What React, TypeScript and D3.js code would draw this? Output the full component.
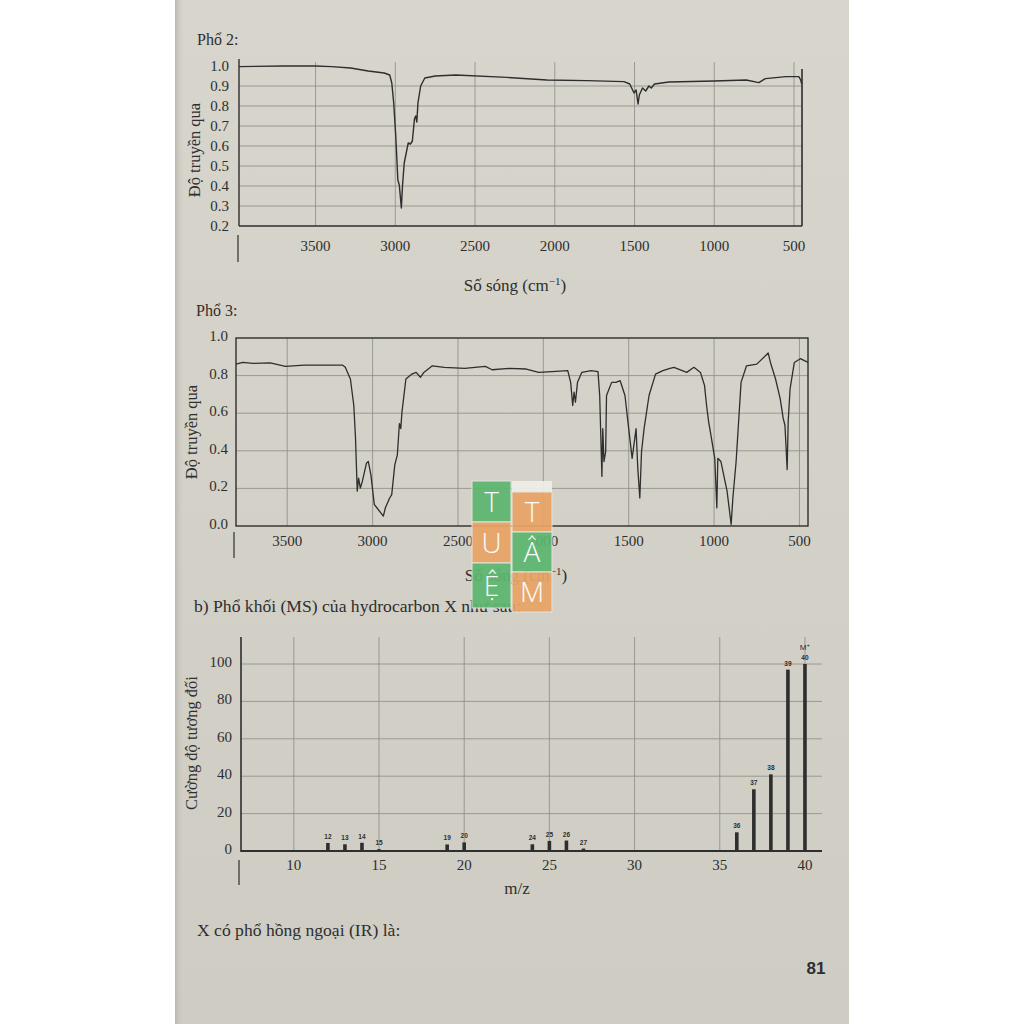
import React from 'react';
import * as d3 from 'd3';

// ---------- DATA ----------
const irTicks = [3500, 3000, 2500, 2000, 1500, 1000, 500];
const ir2YTicks = [0.2, 0.3, 0.4, 0.5, 0.6, 0.7, 0.8, 0.9, 1.0];
const ir3YTicks = [0.0, 0.2, 0.4, 0.6, 0.8, 1.0];

// Phổ 2: [wavenumber, transmittance]
const ir2Points: [number, number][] = [
  [3980, 0.997], [3700, 1.0], [3500, 1.0], [3400, 0.997], [3280, 0.99], [3170, 0.975],
  [3070, 0.965], [3035, 0.955], [3022, 0.915], [3010, 0.815], [2997, 0.65], [2984, 0.43],
  [2975, 0.405], [2962, 0.29], [2955, 0.4], [2944, 0.515], [2919, 0.615], [2905, 0.61],
  [2893, 0.625], [2880, 0.735], [2872, 0.75], [2865, 0.72], [2858, 0.815], [2841, 0.9],
  [2815, 0.94], [2750, 0.95], [2620, 0.955], [2300, 0.943], [2050, 0.93], [1800, 0.927],
  [1566, 0.922], [1530, 0.91], [1503, 0.865], [1490, 0.88], [1478, 0.81], [1470, 0.855],
  [1450, 0.89], [1430, 0.875], [1410, 0.9], [1395, 0.89], [1375, 0.91], [1285, 0.92],
  [1000, 0.925], [800, 0.93], [720, 0.917], [680, 0.937], [550, 0.947], [470, 0.947],
  [458, 0.93], [452, 0.91],
];

// Phổ 3: [wavenumber, transmittance]
const ir3Points: [number, number][] = [
  [3800, 0.861], [3760, 0.87], [3700, 0.865], [3600, 0.868], [3510, 0.849], [3400, 0.856],
  [3177, 0.856], [3160, 0.844], [3130, 0.782], [3110, 0.641], [3100, 0.466], [3090, 0.185],
  [3082, 0.255], [3072, 0.202], [3060, 0.237], [3036, 0.334], [3025, 0.343], [3010, 0.272],
  [2990, 0.114], [2975, 0.097], [2937, 0.053], [2925, 0.097], [2900, 0.149], [2888, 0.167],
  [2870, 0.325], [2855, 0.378], [2843, 0.545], [2835, 0.518], [2828, 0.606], [2805, 0.782],
  [2770, 0.808], [2745, 0.817], [2720, 0.791], [2700, 0.817], [2650, 0.852], [2580, 0.844],
  [2460, 0.838], [2340, 0.849], [2300, 0.831], [2200, 0.838], [2100, 0.835], [2027, 0.817],
  [1950, 0.821], [1857, 0.826], [1840, 0.764], [1828, 0.641], [1820, 0.712], [1812, 0.659],
  [1800, 0.764], [1775, 0.817], [1720, 0.826], [1680, 0.821], [1670, 0.694], [1657, 0.264],
  [1652, 0.518], [1645, 0.343], [1635, 0.395], [1630, 0.694], [1600, 0.764], [1575, 0.764],
  [1550, 0.773], [1522, 0.694], [1500, 0.518], [1480, 0.36], [1457, 0.518], [1447, 0.308],
  [1435, 0.149], [1425, 0.395], [1410, 0.518], [1381, 0.694], [1343, 0.808], [1300, 0.826],
  [1258, 0.838], [1235, 0.844], [1160, 0.817], [1118, 0.844], [1080, 0.817], [1056, 0.747],
  [1044, 0.641], [1032, 0.554], [1025, 0.518], [996, 0.36], [984, 0.097], [978, 0.36],
  [960, 0.343], [924, 0.185], [900, 0.009], [890, 0.149], [871, 0.343], [842, 0.764],
  [810, 0.852], [750, 0.861], [683, 0.92], [670, 0.87], [640, 0.782], [613, 0.677],
  [595, 0.571], [585, 0.536], [572, 0.3], [566, 0.554], [555, 0.729], [530, 0.87],
  [495, 0.89], [450, 0.87],
];

// MS
const msMz = [12, 13, 14, 15, 19, 20, 24, 25, 26, 27, 36, 37, 38, 39, 40];
const msIntensity = [4.3, 3.6, 4.4, 1, 3.5, 4.6, 3.6, 5.4, 5.6, 1.3, 10, 33, 41, 97, 100];
const msXTicks = [10, 15, 20, 25, 30, 35, 40];
const msYTicks = [0, 20, 40, 60, 80, 100];

const logoCol1 = ['T', 'U', 'Ệ'];
const logoCol2 = ['T', 'Â', 'M'];

// ---------- STYLE ----------
const SERIF = "'Liberation Serif', 'Times New Roman', serif";
const SANS = "'Liberation Sans', Arial, sans-serif";
const INK = '#2e2e2e';
const GRID = '#8c8a84';
const GREEN = '#5db670';
const ORANGE = '#e9a466';

export default function App() {
  // Chart 1 scales
  const x1 = d3.scaleLinear().domain([3980, 450]).range([239, 802]);
  const y1 = d3.scaleLinear().domain([0.2, 1.0]).range([226, 66]);
  const line1 = d3.line<[number, number]>().x(d => x1(d[0])).y(d => y1(d[1]));

  // Chart 2 scales
  const x2 = d3.scaleLinear().domain([3800, 450]).range([236, 808]);
  const y2 = d3.scaleLinear().domain([0, 1]).range([526, 338]);
  const line2 = d3.line<[number, number]>().x(d => x2(d[0])).y(d => y2(d[1]));

  // Chart 3 scales
  const x3 = d3.scaleLinear().domain([6.9, 41]).range([241, 822]);
  const y3 = d3.scaleLinear().domain([0, 100]).range([851, 664]);

  const fmt1 = d3.format('.1f');

  return (
    <div>
      <svg width={1024} height={1024} style={{ position: 'absolute', left: 0, top: 0 }}>
        <defs>
          <linearGradient id="paper" x1="0" y1="0" x2="0" y2="1">
            <stop offset="0" stopColor="#d7d5cc" />
            <stop offset="1" stopColor="#cfcdc3" />
          </linearGradient>
          <linearGradient id="shade" x1="0" y1="0" x2="1" y2="0">
            <stop offset="0" stopColor="#b9b7ad" stopOpacity={0.9} />
            <stop offset="1" stopColor="#d5d3ca" stopOpacity={0} />
          </linearGradient>
        </defs>
        <rect x={0} y={0} width={1024} height={1024} fill="#ffffff" />
        <rect x={175} y={0} width={674} height={1024} fill="url(#paper)" />
        <rect x={175} y={0} width={10} height={1024} fill="url(#shade)" />

        {/* ---------------- Phổ 2 ---------------- */}
        <text x={197} y={45} fontFamily={SERIF} fontSize={16} fill={INK}>Phổ 2:</text>
        {ir2YTicks.filter(t => t > 0.25 && t < 0.95).map(t => (
          <line key={'h1' + t} x1={239} x2={802} y1={y1(t)} y2={y1(t)} stroke={GRID} strokeWidth={0.8} />
        ))}
        {irTicks.map(t => (
          <line key={'v1' + t} x1={x1(t)} x2={x1(t)} y1={y1(1.02)} y2={y1(0.2)} stroke={GRID} strokeWidth={0.8} />
        ))}
        <line x1={239} x2={802} y1={y1(0.2)} y2={y1(0.2)} stroke={INK} strokeWidth={1.5} />
        <line x1={239} x2={239} y1={59} y2={y1(0.2)} stroke={INK} strokeWidth={1.4} />
        <line x1={238} x2={238} y1={235} y2={262} stroke={INK} strokeWidth={1.2} />
        <line x1={802} x2={802} y1={69} y2={y1(0.2)} stroke={INK} strokeWidth={1.6} />
        <path d={line1(ir2Points) || ''} fill="none" stroke={INK} strokeWidth={1.4} strokeLinejoin="round" />
        {ir2YTicks.map(t => (
          <text key={'yl1' + t} x={229} y={y1(t) + 5} textAnchor="end" fontFamily={SERIF} fontSize={15} fill={INK}>{fmt1(t)}</text>
        ))}
        {irTicks.map(t => (
          <text key={'xl1' + t} x={x1(t)} y={251} textAnchor="middle" fontFamily={SERIF} fontSize={15} fill={INK}>{t}</text>
        ))}
        <text x={515} y={291} textAnchor="middle" fontFamily={SERIF} fontSize={17} fill={INK}>
          Số sóng (cm<tspan dy={-6} fontSize={11}>−1</tspan><tspan dy={6}>)</tspan>
        </text>
        <text transform="translate(200,150) rotate(-90)" textAnchor="middle" fontFamily={SERIF} fontSize={16.5} fill={INK}>Độ truyền qua</text>

        {/* ---------------- Phổ 3 ---------------- */}
        <text x={196} y={316} fontFamily={SERIF} fontSize={16} fill={INK}>Phổ 3:</text>
        {ir3YTicks.filter(t => t > 0.1 && t < 0.9).map(t => (
          <line key={'h2' + t} x1={236} x2={808} y1={y2(t)} y2={y2(t)} stroke={GRID} strokeWidth={0.8} />
        ))}
        {irTicks.map(t => (
          <line key={'v2' + t} x1={x2(t)} x2={x2(t)} y1={y2(1)} y2={y2(0)} stroke={GRID} strokeWidth={0.8} />
        ))}
        <rect x={236} y={y2(1)} width={808 - 236} height={y2(0) - y2(1)} fill="none" stroke={INK} strokeWidth={1.4} />
        <line x1={234} x2={234} y1={532} y2={558} stroke={INK} strokeWidth={1.2} />
        <path d={line2(ir3Points) || ''} fill="none" stroke={INK} strokeWidth={1.3} strokeLinejoin="round" />
        {ir3YTicks.map(t => (
          <text key={'yl2' + t} x={228} y={y2(t) + 3} textAnchor="end" fontFamily={SERIF} fontSize={15} fill={INK}>{fmt1(t)}</text>
        ))}
        {irTicks.map(t => (
          <text key={'xl2' + t} x={x2(t)} y={546} textAnchor="middle" fontFamily={SERIF} fontSize={15} fill={INK}>{t}</text>
        ))}
        <text x={516} y={581} textAnchor="middle" fontFamily={SERIF} fontSize={17} fill={INK}>
          Số sóng (cm<tspan dy={-6} fontSize={11}>−1</tspan><tspan dy={6}>)</tspan>
        </text>
        <text transform="translate(197,432) rotate(-90)" textAnchor="middle" fontFamily={SERIF} fontSize={16.5} fill={INK}>Độ truyền qua</text>

        {/* ---------------- MS ---------------- */}
        <text x={194} y={612} fontFamily={SERIF} fontSize={17.6} fill={INK}>b) Phổ khối (MS) của hydrocarbon X như sau:</text>
        {msYTicks.filter(t => t > 0).map(t => (
          <line key={'h3' + t} x1={241} x2={822} y1={y3(t)} y2={y3(t)} stroke={GRID} strokeWidth={0.8} />
        ))}
        {msXTicks.map(t => (
          <line key={'v3' + t} x1={x3(t)} x2={x3(t)} y1={637} y2={y3(0)} stroke={GRID} strokeWidth={0.8} />
        ))}
        <line x1={241} x2={822} y1={y3(0)} y2={y3(0)} stroke={INK} strokeWidth={2} />
        <line x1={241} x2={241} y1={637} y2={y3(0) + 1} stroke={INK} strokeWidth={1.6} />
        <line x1={239} x2={239} y1={860} y2={885} stroke={INK} strokeWidth={1.2} />
        {msMz.map((m, i) => (
          <g key={'b' + m}>
            <rect x={x3(m) - 1.8} y={y3(msIntensity[i])} width={3.6} height={y3(0) - y3(msIntensity[i])} fill={INK} />
            <text x={x3(m)} y={y3(msIntensity[i]) - 4} textAnchor="middle" fontFamily={SANS} fontSize={6.5} fontWeight="bold" fill={INK}>{m}</text>
          </g>
        ))}
        <text x={x3(40)} y={y3(100) - 14} textAnchor="middle" fontFamily={SANS} fontSize={8} fill={INK}>M<tspan dy={-3} fontSize={6}>+</tspan></text>
        {msYTicks.map(t => (
          <text key={'yl3' + t} x={232} y={y3(t) + 3} textAnchor="end" fontFamily={SERIF} fontSize={15} fill={INK}>{t}</text>
        ))}
        {msXTicks.map(t => (
          <text key={'xl3' + t} x={x3(t)} y={870} textAnchor="middle" fontFamily={SERIF} fontSize={15} fill={INK}>{t}</text>
        ))}
        <text x={517} y={894} textAnchor="middle" fontFamily={SERIF} fontSize={17} fill={INK}>m/z</text>
        <text transform="translate(197,743) rotate(-90)" textAnchor="middle" fontFamily={SERIF} fontSize={16.5} fill={INK}>Cường độ tương đối</text>

        {/* ---------------- Footer text ---------------- */}
        <text x={197} y={936} fontFamily={SERIF} fontSize={17.6} fill={INK}>X có phổ hồng ngoại (IR) là:</text>
        <text x={816} y={974} textAnchor="middle" fontFamily={"'Liberation Sans Narrow', 'Liberation Sans', sans-serif"} fontWeight="bold" fontSize={17} fill={INK}>81</text>

        {/* ---------------- Watermark logo ---------------- */}
        <g opacity={0.93}>
          <rect x={512} y={481} width={40} height={11} fill="#efefea" />
          {logoCol1.map((c, i) => {
            const ys = [481, 522, 563];
            const hs = [41, 41, 45];
            return (
              <g key={'l1' + i}>
                <rect x={472} y={ys[i]} width={39} height={hs[i]} fill={i === 1 ? ORANGE : GREEN} stroke="#e6e6e0" strokeWidth={1} />
                <text x={491.5} y={ys[i] + hs[i] / 2 + 10} textAnchor="middle" fontFamily="'Open Sans', sans-serif" fontWeight={300} fontSize={28} fill="#ffffff">{c}</text>
              </g>
            );
          })}
          {logoCol2.map((c, i) => {
            const ys = [492, 532, 572];
            const hs = [40, 40, 40];
            return (
              <g key={'l2' + i}>
                <rect x={512} y={ys[i]} width={40} height={hs[i]} fill={i === 1 ? GREEN : ORANGE} stroke="#e6e6e0" strokeWidth={1} />
                <text x={532} y={ys[i] + hs[i] / 2 + 10} textAnchor="middle" fontFamily="'Open Sans', sans-serif" fontWeight={300} fontSize={28} fill="#ffffff">{c}</text>
              </g>
            );
          })}
        </g>
      </svg>
    </div>
  );
}
